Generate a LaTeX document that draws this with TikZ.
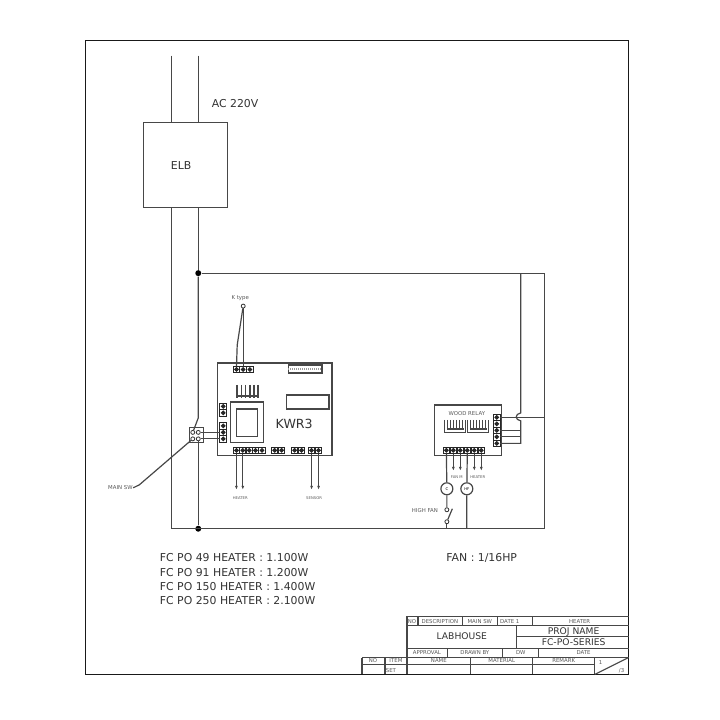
\documentclass[tikz,border=0pt]{standalone}
\usepackage{fontspec}
\setmainfont{DejaVu Sans}
\usetikzlibrary{positioning, arrows.meta}
\newcommand{\tinyfont}{\fontsize{2.7}{3}\selectfont}
\newcommand{\wirefont}{\fontsize{1.9}{2}\selectfont}
\newcommand{\bigfont}{\fontsize{5.45}{7}\selectfont}
\newcommand{\namefont}{\fontsize{4.6}{6}\selectfont}

\begin{document}
\begin{tikzpicture}[
    x=0.5pt, y=-0.5pt,
    line width=0.6pt,
    every path/.style={draw=black!72},
    box/.style={rectangle, draw=black!72, inner sep=0pt, outer sep=0pt},
    term/.style={rectangle, draw=black!85, minimum width=3.3pt, minimum height=3.3pt, inner sep=0pt, outer sep=0pt, line width=0.5pt,
    path picture={\fill[black!85] (path picture bounding box.center) circle (0.9pt);}},
    screw/.style={circle, draw=black!80, minimum size=2pt, inner sep=0pt, line width=0.4pt},
    dot/.style={circle, fill=black, minimum size=3pt, inner sep=0pt},
    load/.style={circle, draw=black!72, minimum size=6pt, inner sep=0pt, font=\wirefont},
    mylabel/.style={font=\tinyfont, text=black!65, inner sep=0pt},
    wirelabel/.style={font=\wirefont, text=black!65, inner sep=0pt},
    biglabel/.style={font=\bigfont, text=black!80, inner sep=0pt, anchor=west},
    namelabel/.style={font=\namefont, text=black!80, inner sep=0pt},
    tb/.style={font=\tinyfont, text=black!65, inner sep=0pt},
    sink/.pic={\draw[line width=1.1pt] (0,11)--(22,11);
    \foreach \t in {1,5.2,9.4,13.6,17.8,22} \draw[line width=0.9pt] (\t,0)--(\t,13);},
    relay/.pic={\draw (0,0)--(0,13)--(21,13)--(21,0);
    \foreach \t in {3,6,9,12,15,18} \draw[line width=0.5pt] (\t,0)--(\t,9);
    \draw[line width=0.9pt] (2,9)--(19,9);},
    >={Latex[length=2pt,width=1.5pt]}
    ]
\useasboundingbox (0,0) rectangle (720,720);
\fill[white] (0,0) rectangle (720,720);

\node[box, draw=black!90, minimum width=272pt, minimum height=317.5pt] (frame) at (357,357.5) {};

% supply and breaker
\node[box, minimum width=42pt, minimum height=42.5pt] (elb) at (185,164.5) {};
\node[biglabel] (elbtext) at (170,165) {ELB};
\node[biglabel] (ac) at (211,103) {AC 220V};
\coordinate (acl) at (171,55);
\coordinate (acr) at (198,55);
\coordinate (bl) at (171,529);
\coordinate (br) at (545,529);
\coordinate (tr) at (545,273);
\node[dot] (top) at (198,273) {};
\node[dot] (bot) at (198,529) {};
\draw (acl)--(acl|-elb.north);
\draw (acr)--(acr|-elb.north);
\draw (acl|-elb.south)--(bl)--(br)--(tr)--(top);
\draw (acr|-elb.south)--(top);

% main switch
\node[box, minimum width=7pt, minimum height=7.5pt] (msw) at (196,435.5) {};
\node[screw] (s1) at (192.5,432.5) {};
\node[screw] (s2) at (198,432.5) {};
\node[screw] (s3) at (192.5,439) {};
\node[screw] (s4) at (198,439) {};
\node[mylabel] (mswtext) at (120,488) {MAIN SW};
\coordinate (bend) at (198,418);
\coordinate (lead) at (139,485);
\draw (top)--(bend)--(s1);
\draw (s4)--(bot);
\draw (mswtext.east)--(lead)--(s3);

% KWR3 board
\node[box, minimum width=57.5pt, minimum height=46.5pt] (kwr) at (274.5,409.5) {};
\node[biglabel, font=\fontsize{6.3}{8}\selectfont] (kwrtext) at (275,424) {KWR3};
\node[box, minimum width=17pt, minimum height=4pt] (conn) at (305,369) {};
\draw[dash pattern=on 0.5pt off 0.5pt, line width=1.2pt, draw=black!40] (conn.west)--(conn.east);
\node[box, minimum width=21.5pt, minimum height=7pt] (disp) at (307.5,402) {};
\node[box, minimum width=16.5pt, minimum height=20.5pt] (trans) at (246.5,422.5) {};
\node[box, minimum width=10.5pt, minimum height=14pt] (core) at (246.5,423) {};
\pic (hs) at (236,385) {sink};
\foreach \n/\x/\y in {t1/236.3/369.5, t2/243/369.5, t3/249.7/369.5,
    a1/236.2/450.5, a2/242.6/450.5, a3/249/450.5, a4/255.4/450.5, a5/261.8/450.5,
    b1/274.5/450.5, b2/281.5/450.5, c1/294.5/450.5, c2/301.5/450.5,
    d1/311.5/450.5, d2/318.5/450.5,
    e1/223/406.5, e2/223/413, f1/223/426, f2/223/432.5, f3/223/439}
    \node[term] (\n) at (\x,\y) {};
\node[screw] (ant) at (243,306) {};
\node[mylabel] (anttext) at (240,298) {K type};
\coordinate (antb) at (237,345);
\draw (t1.north)--(antb)--(ant);
\draw (t2.north)--(ant);
\draw (s2)--(f2);
\draw (s4)--(f3);
\node[wirelabel] (heatl) at (240,498) {HEATER};
\node[wirelabel] (sensl) at (314,498) {SENSOR};
\coordinate (ha) at (236.2,490);
\coordinate (hb) at (242.6,490);
\coordinate (sa) at (311.5,490);
\coordinate (sb) at (318.5,490);
\draw[->] (a1)--(ha);
\draw[->] (a2)--(hb);
\draw[->] (d1)--(sa);
\draw[->] (d2)--(sb);

% relay board
\node[box, minimum width=33.5pt, minimum height=25.5pt] (rb) at (468.5,430.5) {};
\node[mylabel] (rbtext) at (467,414) {WOOD RELAY};
\pic (r1) at (445,420) {relay};
\pic (r2) at (468,420) {relay};
\foreach \n/\x/\y in {g1/446.5/450.5, g2/453.5/450.5, g3/460.5/450.5, g4/467.5/450.5, g5/474.5/450.5, g6/481.5/450.5,
    h1/497/417.5, h2/497/424, h3/497/430.5, h4/497/437, h5/497/443.5}
    \node[term] (\n) at (\x,\y) {};
\node[load] (m1) at (447,489) {C};
\node[load] (m2) at (467,489) {HF};
\node[wirelabel] (fanl) at (457,477) {FAN M};
\node[wirelabel] (heal) at (478,477) {HEATER};
\node[mylabel] (highl) at (425,511) {HIGH FAN};
\node[screw] (sw1) at (447,510) {};
\node[screw] (sw2) at (447,522) {};
\coordinate (blade) at (452.5,509);
\coordinate (ra) at (453.5,471);
\coordinate (rb2) at (460.5,471);
\coordinate (rc) at (474.5,471);
\coordinate (rd) at (481.5,471);
\draw (g1)--(m1)--(sw1);
\draw (sw2)--(blade);
\draw (sw2)--(sw2|-bl);
\draw (g4)--(m2)--(m2|-bl);
\draw[->] (g2)--(ra);
\draw[->] (g3)--(rb2);
\draw[->] (g5)--(rc);
\draw[->] (g6)--(rd);
\coordinate (vt) at (521,273);
\coordinate (hopa) at (521,413);
\coordinate (hopb) at (521,421);
\coordinate (vb) at (521,443.5);
\draw (vt)--(hopa) .. controls (515,414) and (515,420) .. (hopb)--(vb)--(h5);
\draw (h1)--(h1-|br);
\draw (h3)--(h3-|vb);
\draw (h4)--(h4-|vb);

% heater and fan notes
\foreach \n/\y/\t in {n1/558/FC PO 49 HEATER : 1.100W, n2/573/FC PO 91 HEATER : 1.200W,
    n3/587/FC PO 150 HEATER : 1.400W, n4/601/FC PO 250 HEATER : 2.100W}
    \node[biglabel] (\n) at (159,\y) {\t};
\node[biglabel] (fan) at (446,558) {FAN : 1/16HP};

% title block
\draw (629,617)--(407,617)--(407,658);
\draw (407,626)--(629,626);
\draw (407,649)--(629,649);
\draw (362,658)--(629,658);
\draw (362,665)--(595,665);
\draw (362,658)--(362,675);
\draw (517,626)--(517,649);
\draw (517,637)--(629,637);
\foreach \x in {418,463,498,533} \draw (\x,617)--(\x,626);
\foreach \x in {448,503,539} \draw (\x,649)--(\x,658);
\foreach \x in {385,407,471,533,595} \draw (\x,658)--(\x,675);
\draw (595,675)--(629,658);
\foreach \n/\x/\y/\t in {ta/412/621.5/NO, tc/440/621.5/DESCRIPTION, td/480/621.5/MAIN SW, te/510/621.5/DATE 1/2, tf/580/621.5/HEATER,
    tg/427/653.5/APPROVAL, th/475/653.5/DRAWN BY, ti/521/653.5/DW, tj/584/653.5/DATE,
    tk/373/661.5/NO, tl/396/661.5/ITEM, tm/439/661.5/NAME, tn/502/661.5/MATERIAL, to/564/661.5/REMARK,
    tp/391/671/SET}
    \node[tb] (\n) at (\x,\y) {\t};
\node[namelabel] (lab) at (462,637) {LABHOUSE};
\node[namelabel] (pname) at (574,632) {PROJ NAME};
\node[namelabel] (pser) at (574,643) {FC-PO-SERIES};
\node[tb] (sheeta) at (601,663) {1};
\node[tb] (sheetb) at (622,671) {/3};
\end{tikzpicture}
\end{document}
